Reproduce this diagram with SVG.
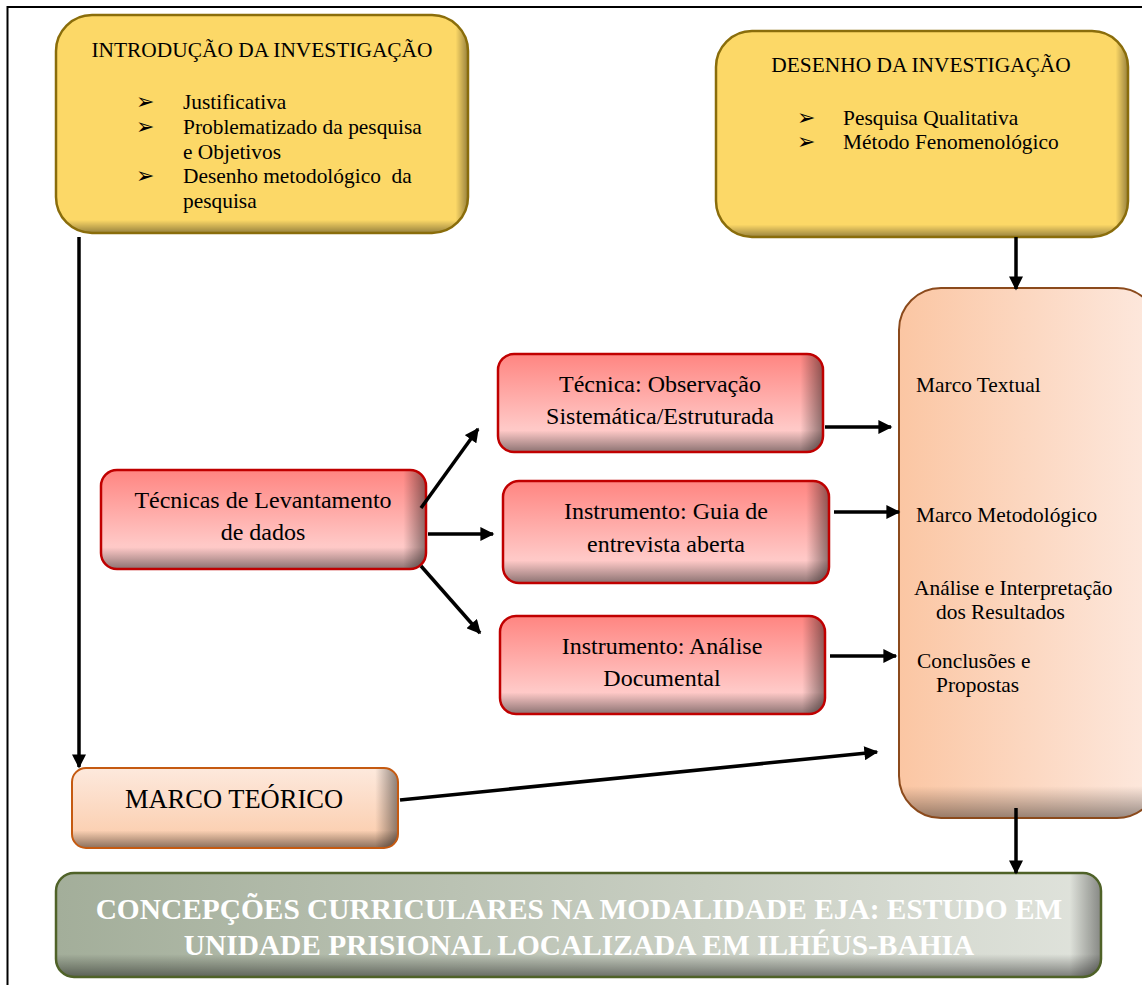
<svg xmlns="http://www.w3.org/2000/svg" width="1142" height="985" viewBox="0 0 1142 985">
<defs>
<linearGradient id="gRed" x1="0" y1="0" x2="0" y2="1"><stop offset="0" stop-color="#ff8581"/><stop offset="0.75" stop-color="#ffc8c6"/><stop offset="1" stop-color="#ffd0cf"/></linearGradient>
<linearGradient id="gPeachH" x1="0" y1="0" x2="1" y2="0"><stop offset="0" stop-color="#fbc6a3"/><stop offset="1" stop-color="#fde9df"/></linearGradient>
<linearGradient id="gPeachV" x1="0" y1="0" x2="0" y2="1"><stop offset="0" stop-color="#fde9dd"/><stop offset="1" stop-color="#fbcaa8"/></linearGradient>
<linearGradient id="gGreen" x1="0" y1="0" x2="1" y2="0"><stop offset="0" stop-color="#a3ae9a"/><stop offset="1" stop-color="#e0e3dc"/></linearGradient>
<linearGradient id="shB" x1="0" y1="0" x2="0" y2="1"><stop offset="0.78" stop-color="#000" stop-opacity="0"/><stop offset="1" stop-color="#000" stop-opacity="0.45"/></linearGradient>
<linearGradient id="shR" x1="0" y1="0" x2="1" y2="0"><stop offset="0.93" stop-color="#000" stop-opacity="0"/><stop offset="1" stop-color="#000" stop-opacity="0.45"/></linearGradient>
<linearGradient id="shRw" x1="0" y1="0" x2="1" y2="0"><stop offset="0.97" stop-color="#000" stop-opacity="0"/><stop offset="1" stop-color="#000" stop-opacity="0.4"/></linearGradient>
<linearGradient id="shBt" x1="0" y1="0" x2="0" y2="1"><stop offset="0.94" stop-color="#000" stop-opacity="0"/><stop offset="1" stop-color="#000" stop-opacity="0.4"/></linearGradient>
<marker id="ah" viewBox="0 0 10 10" refX="9" refY="5" markerWidth="4.2" markerHeight="4" orient="auto" markerUnits="strokeWidth"><path d="M0,0 L10,5 L0,10 Z" fill="#000"/></marker>
</defs>
<style>
text{font-family:"Liberation Serif","Times New Roman",serif;fill:#000}
.c{text-anchor:middle}
.yl{stroke:#8a6d0b;stroke-width:2.5}
.rd{stroke:#c00000;stroke-width:2.5}
.pc{stroke:#8b4a1c;stroke-width:2}
.mt{stroke:#c55a11;stroke-width:2}
.gr{stroke:#4f6228;stroke-width:2.5}
.ln{stroke:#000;stroke-width:3.5;fill:none;marker-end:url(#ah)}
.s21{font-size:21.4px}
.bl{font-size:22px}
.s24{font-size:24px}
.bt{font-size:29.4px;font-weight:bold;fill:#fff}
</style>
<rect width="1142" height="985" fill="#fff"/>
<path d="M7.5,985 V7 H1142" fill="none" stroke="#000" stroke-width="2"/>

<g id="intro">
<rect x="56" y="15" width="412" height="218" rx="36" fill="#fcd867"/>
<rect x="56" y="15" width="412" height="218" rx="36" fill="url(#shBt)"/>
<rect x="56" y="15" width="412" height="218" rx="36" fill="url(#shRw)"/>
<rect x="56" y="15" width="412" height="218" rx="36" fill="none" class="yl"/>
<text class="s21 c" x="262" y="57">INTRODUÇÃO DA INVESTIGAÇÃO</text>
<text class="bl" x="136" y="109">➢</text><text class="s21" x="183" y="109">Justificativa</text>
<text class="bl" x="136" y="134">➢</text><text class="s21" x="183" y="134">Problematizado da pesquisa</text>
<text class="s21" x="183" y="159">e Objetivos</text>
<text class="bl" x="136" y="183">➢</text><text class="s21" x="183" y="183" xml:space="preserve">Desenho metodológico  da</text>
<text class="s21" x="183" y="208">pesquisa</text>
</g>

<g id="desenho">
<rect x="716" y="31" width="412" height="206" rx="36" fill="#fcd867"/>
<rect x="716" y="31" width="412" height="206" rx="36" fill="url(#shBt)"/>
<rect x="716" y="31" width="412" height="206" rx="36" fill="url(#shRw)"/>
<rect x="716" y="31" width="412" height="206" rx="36" fill="none" class="yl"/>
<text class="s21 c" x="921" y="72">DESENHO DA INVESTIGAÇÃO</text>
<text class="bl" x="797" y="125">➢</text><text class="s21" x="843" y="125">Pesquisa Qualitativa</text>
<text class="bl" x="797" y="149">➢</text><text class="s21" x="843" y="149">Método Fenomenológico</text>
</g>

<g id="marcos">
<rect x="899" y="288" width="260" height="530" rx="42" fill="url(#gPeachH)"/>
<rect x="899" y="288" width="260" height="530" rx="42" fill="url(#shBt)"/>
<rect x="899" y="288" width="260" height="530" rx="42" fill="none" class="pc"/>
<text class="s21" x="916" y="392">Marco Textual</text>
<text class="s21" x="916" y="522">Marco Metodológico</text>
<text class="s21" x="914" y="595">Análise e Interpretação</text>
<text class="s21" x="936" y="619">dos Resultados</text>
<text class="s21" x="917" y="668">Conclusões e</text>
<text class="s21" x="936" y="692">Propostas</text>
</g>

<g id="tecnicas">
<rect x="101" y="470" width="325" height="99" rx="16" fill="url(#gRed)"/>
<rect x="101" y="470" width="325" height="99" rx="16" fill="url(#shB)"/>
<rect x="101" y="470" width="325" height="99" rx="16" fill="url(#shR)"/>
<rect x="101" y="470" width="325" height="99" rx="16" fill="none" class="rd"/>
<text class="s24 c" x="263" y="508">Técnicas de Levantamento</text>
<text class="s24 c" x="263" y="540">de dados</text>
</g>

<g id="observacao">
<rect x="498" y="354" width="325" height="98" rx="16" fill="url(#gRed)"/>
<rect x="498" y="354" width="325" height="98" rx="16" fill="url(#shB)"/>
<rect x="498" y="354" width="325" height="98" rx="16" fill="url(#shR)"/>
<rect x="498" y="354" width="325" height="98" rx="16" fill="none" class="rd"/>
<text class="s24 c" x="660" y="392">Técnica: Observação</text>
<text class="s24 c" x="660" y="424">Sistemática/Estruturada</text>
</g>

<g id="guia">
<rect x="503" y="481" width="326" height="102" rx="16" fill="url(#gRed)"/>
<rect x="503" y="481" width="326" height="102" rx="16" fill="url(#shB)"/>
<rect x="503" y="481" width="326" height="102" rx="16" fill="url(#shR)"/>
<rect x="503" y="481" width="326" height="102" rx="16" fill="none" class="rd"/>
<text class="s24 c" x="666" y="519">Instrumento: Guia de</text>
<text class="s24 c" x="666" y="552">entrevista aberta</text>
</g>

<g id="analise">
<rect x="500" y="616" width="325" height="98" rx="16" fill="url(#gRed)"/>
<rect x="500" y="616" width="325" height="98" rx="16" fill="url(#shB)"/>
<rect x="500" y="616" width="325" height="98" rx="16" fill="url(#shR)"/>
<rect x="500" y="616" width="325" height="98" rx="16" fill="none" class="rd"/>
<text class="s24 c" x="662" y="654">Instrumento: Análise</text>
<text class="s24 c" x="662" y="686">Documental</text>
</g>

<g id="marco-teorico">
<rect x="72" y="768" width="326" height="80" rx="14" fill="url(#gPeachV)"/>
<rect x="72" y="768" width="326" height="80" rx="14" fill="url(#shB)"/>
<rect x="72" y="768" width="326" height="80" rx="14" fill="url(#shR)"/>
<rect x="72" y="768" width="326" height="80" rx="14" fill="none" class="mt"/>
<text class="c" x="234" y="808" style="font-size:26.5px">MARCO TEÓRICO</text>
</g>

<g id="titulo">
<rect x="56" y="873" width="1045" height="104" rx="18" fill="url(#gGreen)"/>
<rect x="56" y="873" width="1045" height="104" rx="18" fill="url(#shB)"/>
<rect x="56" y="873" width="1045" height="104" rx="18" fill="url(#shRw)"/>
<rect x="56" y="873" width="1045" height="104" rx="18" fill="none" class="gr"/>
<text class="bt c" x="579" y="919">CONCEPÇÕES CURRICULARES NA MODALIDADE EJA: ESTUDO EM</text>
<text class="bt c" x="579" y="955">UNIDADE PRISIONAL LOCALIZADA EM ILHÉUS-BAHIA</text>
</g>

<g id="connectors">
<line class="ln" x1="79" y1="237" x2="79" y2="767"/>
<line class="ln" x1="1016" y1="237" x2="1016" y2="289"/>
<line class="ln" x1="421" y1="508" x2="478" y2="429"/>
<line class="ln" x1="428" y1="534" x2="493" y2="534"/>
<line class="ln" x1="421" y1="566" x2="480" y2="633"/>
<line class="ln" x1="825" y1="427" x2="891" y2="427"/>
<line class="ln" x1="834" y1="512" x2="899" y2="512"/>
<line class="ln" x1="830" y1="656" x2="896" y2="656"/>
<line class="ln" x1="400" y1="800" x2="877" y2="752"/>
<line class="ln" x1="1016" y1="808" x2="1016" y2="873"/>
</g>
</svg>
